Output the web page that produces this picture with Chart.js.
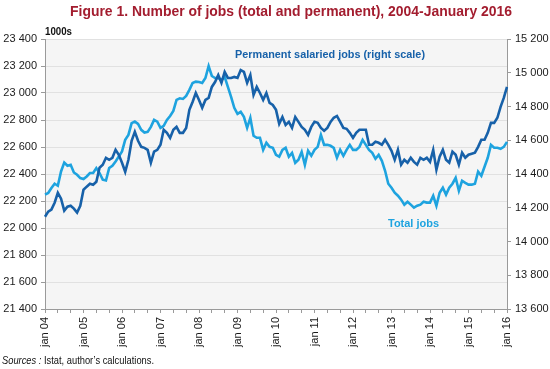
<!DOCTYPE html>
<html>
<head>
<meta charset="utf-8">
<script src="https://cdn.jsdelivr.net/npm/chart.js@4.4.1/dist/chart.umd.min.js"></script>
<style>
  html, body { margin: 0; padding: 0; background: #fff; }
  canvas { display: block; }
</style>
</head>
<body>
<canvas id="myChart" width="550" height="369"></canvas>
<script>
const YEARS = ['04', '05', '06', '07', '08', '09', '10', '11', '12', '13', '14', '15', '16'];
const MONTHS = ['jan', 'feb', 'mar', 'apr', 'may', 'jun', 'jul', 'aug', 'sep', 'oct', 'nov', 'dec'];
const LEFT_TICKS = [21400, 21600, 21800, 22000, 22200, 22400, 22600, 22800, 23000, 23200, 23400];
const RIGHT_TICKS = [13600, 13800, 14000, 14200, 14400, 14600, 14800, 15000, 15200];

// total jobs, 1000s (left scale), jan 04 -> jan 16
const totalJobs = [
    22247, 22259, 22296, 22328, 22313, 22419, 22485, 22461, 22468, 22411, 22394, 22370,
    22363, 22382, 22407, 22407, 22444, 22407, 22358, 22352, 22444, 22461, 22493, 22530,
    22567, 22653, 22690, 22777, 22788, 22771, 22727, 22707, 22712, 22749, 22801, 22788,
    22742, 22757, 22801, 22830, 22867, 22949, 22961, 22956, 22978, 23023, 23074, 23084,
    23082, 23074, 23111, 23200, 23126, 23111, 23111, 23097, 23119, 23045, 22971, 22890,
    22845, 22860, 22823, 22742, 22816, 22683, 22668, 22668, 22579, 22631, 22601, 22594,
    22542, 22528, 22579, 22594, 22528, 22557, 22483, 22505, 22564, 22468, 22572, 22535,
    22579, 22601, 22690, 22616, 22616, 22609, 22594, 22520, 22579, 22535, 22579, 22616,
    22579, 22579, 22601, 22653, 22616, 22579, 22557, 22513, 22542, 22498, 22424, 22328,
    22298, 22261, 22239, 22210, 22173, 22195, 22173, 22151, 22165, 22173, 22195, 22188,
    22188, 22239, 22165, 22261, 22298, 22247, 22298, 22328, 22372, 22276, 22350, 22335,
    22321, 22321, 22328, 22417, 22387, 22454, 22520, 22616, 22594, 22594, 22587, 22601,
    22638
];

// permanent salaried jobs, 1000s (right scale)
const permanentJobs = [
    14147, 14177, 14189, 14230, 14289, 14254, 14183, 14206, 14212, 14195, 14171, 14212,
    14307, 14325, 14342, 14336, 14354, 14437, 14455, 14496, 14484, 14496, 14543, 14514,
    14467, 14413, 14484, 14597, 14650, 14597, 14561, 14555, 14543, 14467, 14532, 14543,
    14573, 14662, 14644, 14614, 14662, 14679, 14644, 14644, 14673, 14780, 14827, 14880,
    14839, 14792, 14839, 14851, 14916, 14945, 14987, 14940, 15005, 14969, 14969, 14975,
    14969, 15016, 15005, 14940, 14987, 14869, 14916, 14880, 14839, 14880, 14821, 14809,
    14780, 14697, 14738, 14691, 14709, 14673, 14738, 14709, 14679, 14662, 14632, 14679,
    14709, 14703, 14673, 14656, 14673, 14709, 14733, 14744, 14709, 14673, 14668, 14644,
    14614, 14644, 14662, 14662, 14662, 14573, 14573, 14591, 14585, 14573, 14603, 14573,
    14537, 14484, 14543, 14455, 14484, 14467, 14496, 14472, 14455, 14496, 14484, 14496,
    14472, 14543, 14425, 14502, 14543, 14484, 14467, 14532, 14514, 14455, 14526, 14496,
    14514, 14520, 14526, 14561, 14603, 14603, 14644, 14703, 14703, 14733, 14798, 14851,
    14916
];

const DARK = '#1761a9';
const LIGHT = '#1ea3df';
const AXIS = '#9a9a9a';

var labels = [];
YEARS.forEach(function (yy, i) {
    MONTHS.forEach(function (mm) {
        if (i < YEARS.length - 1 || mm === 'jan') labels.push(mm + ' ' + yy);
    });
});

function spaced(v) {
    return String(v).replace(/\B(?=(\d{3})+(?!\d))/g, ' ');
}

// draw text, squeezed horizontally to a given width (the original font is narrow)
function squeeze(ctx, text, x, y, width) {
    var w = ctx.measureText(text).width;
    var sx = Math.min(1, width / w);
    ctx.save();
    ctx.translate(x, y);
    ctx.scale(sx, 1);
    ctx.fillText(text, 0, 0);
    ctx.restore();
}

const background = {
    id: 'background',
    beforeDraw: function (chart) {
        var ctx = chart.ctx, a = chart.chartArea;
        ctx.save();
        ctx.fillStyle = '#fff';
        ctx.fillRect(0, 0, chart.width, chart.height);
        ctx.fillStyle = '#f5f5f5';
        ctx.fillRect(a.left, a.top, a.right - a.left, a.bottom - a.top);
        ctx.restore();
    }
};

const texts = {
    id: 'texts',
    afterDraw: function (chart) {
        var ctx = chart.ctx;
        ctx.save();
        ctx.textBaseline = 'alphabetic';
        ctx.textAlign = 'left';

        ctx.font = 'bold 15px "Liberation Sans"';
        ctx.fillStyle = '#a31d2f';
        squeeze(ctx, 'Figure 1. Number of jobs (total and permanent), 2004-January 2016', 70, 16, 442);

        ctx.font = 'bold 10px "Liberation Sans"';
        ctx.fillStyle = '#111';
        squeeze(ctx, '1000s', 45, 35, 27);

        ctx.font = 'bold 11px "Liberation Sans"';
        ctx.fillStyle = DARK;
        squeeze(ctx, 'Permanent salaried jobs (right scale)', 235, 58, 190);
        ctx.fillStyle = LIGHT;
        squeeze(ctx, 'Total jobs', 388, 227, 51);

        // sources line: italic lead-in then plain text
        ctx.fillStyle = '#111';
        var lead = 'Sources :', rest = ' Istat, author\u2019s calculations.';
        ctx.font = 'italic 11px "Liberation Sans"';
        var w1 = ctx.measureText(lead).width;
        ctx.font = '11px "Liberation Sans"';
        var w2 = ctx.measureText(rest).width;
        var sx = Math.min(1, 152 / (w1 + w2));
        ctx.translate(2, 364);
        ctx.scale(sx, 1);
        ctx.font = 'italic 11px "Liberation Sans"';
        ctx.fillText(lead, 0, 0);
        ctx.font = '11px "Liberation Sans"';
        ctx.fillText(rest, w1, 0);
        ctx.restore();
    }
};

Chart.defaults.font.family = '"Liberation Sans", Arial, sans-serif';
Chart.defaults.font.size = 11;
Chart.defaults.color = '#1a1a1a';

const CHART = document.getElementById('myChart');
const myChart = new Chart(CHART, {
    type: 'line',
    data: {
        labels: labels,
        datasets: [{
            label: 'Permanent salaried jobs (right scale)',
            data: permanentJobs,
            yAxisID: 'y2',
            borderColor: DARK,
            borderWidth: 2.6,
            pointRadius: 0,
            tension: 0
        }, {
            label: 'Total jobs',
            data: totalJobs,
            yAxisID: 'y',
            borderColor: LIGHT,
            borderWidth: 2.6,
            pointRadius: 0,
            tension: 0
        }]
    },
    options: {
        responsive: false,
        animation: false,
        devicePixelRatio: 1,
        layout: { padding: { top: 39, left: 0, right: 0, bottom: 0 } },
        plugins: {
            legend: { display: false },
            tooltip: { enabled: false }
        },
        scales: {
            x: {
                type: 'category',
                offset: false,
                grid: {
                    drawOnChartArea: false,
                    tickLength: 4,
                    tickColor: function (c) { return c.index % 4 === 0 ? AXIS : 'rgba(0,0,0,0)'; }
                },
                border: { display: true, color: AXIS, width: 1 },
                ticks: {
                    autoSkip: false,
                    minRotation: 90,
                    maxRotation: 90,
                    padding: 4,
                    callback: function (v, i) { return i % 12 === 0 ? labels[i] : ''; }
                },
                afterFit: function (s) { s.height = 60; }
            },
            y: {
                position: 'left',
                min: 21400,
                max: 23400,
                afterBuildTicks: function (s) { s.ticks = LEFT_TICKS.map(function (v) { return { value: v }; }); },
                grid: { color: '#e1e1e1', tickColor: AXIS, tickLength: 4 },
                border: { display: true, color: AXIS, width: 1 },
                ticks: { padding: 4, callback: spaced },
                afterFit: function (s) { s.width = 45; }
            },
            y2: {
                position: 'right',
                min: 13600,
                max: 15200,
                afterBuildTicks: function (s) { s.ticks = RIGHT_TICKS.map(function (v) { return { value: v }; }); },
                grid: { drawOnChartArea: false, tickColor: AXIS, tickLength: 4 },
                border: { display: true, color: AXIS, width: 1 },
                ticks: { padding: 4, callback: spaced },
                afterFit: function (s) { s.width = 43; }
            }
        }
    },
    plugins: [background, texts]
});
</script>
</body>
</html>
